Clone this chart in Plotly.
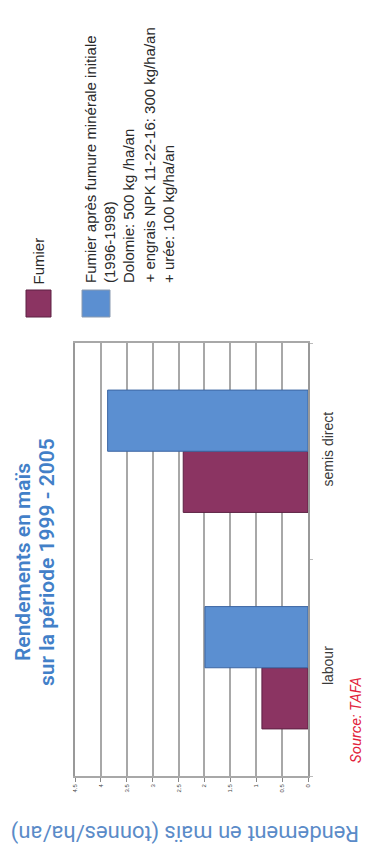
import plotly.graph_objects as go

# ---------------- data ----------------
categories = ["labour", "semis direct"]
series_names = ["Fumier", "Fumier après fumure minérale initiale"]
fumier = [0.89, 2.41]
fumier_apres_fumure = [1.99, 3.87]
tick_values = [0, 0.5, 1, 1.5, 2, 2.5, 3, 3.5, 4, 4.5]
tick_labels = ["0", "0.5", "1", "1.5", "2", "2.5", "3", "3.5", "4", "4.5"]
legend_fumier_lines = ["Fumier"]
legend_mineral_lines = [
    "Fumier après fumure minérale initiale",
    "(1996-1998)",
    "Dolomie: 500 kg /ha/an",
    "+ engrais NPK 11-22-16: 300 kg/ha/an",
    "+ urée: 100 kg/ha/an",
]
title_lines = ["Rendements en maïs", "sur la période 1999 - 2005"]
axis_title = "Rendement en maïs (tonnes/ha/an)"
source_text = "Source: TAFA"

# ---------------- style ----------------
W, H = 366, 858
L, R, T, B = 75, 308, 343, 776          # plot area in pixels
bar_colors = ["#8b3462", "#5b8fd1"]
bar_edges = ["#5c2142", "#3d66a3"]
title_color = "#4280c8"
axis_title_color = "#5a8bc8"
source_color = "#e2233c"
grid_color = "#a8a8a8"


def px(x):
    return (x - L) / (R - L)


def py(y):
    return (B - y) / (B - T)


fig = go.Figure()
fig.add_trace(go.Bar(
    y=categories, x=fumier, name=series_names[0], orientation="h",
    marker=dict(color=bar_colors[0], line=dict(color=bar_edges[0], width=1)),
))
fig.add_trace(go.Bar(
    y=categories, x=fumier_apres_fumure, name=series_names[1], orientation="h",
    marker=dict(color=bar_colors[1], line=dict(color=bar_edges[1], width=1)),
))

annotations = []
# title (rotated)
title_x = [23, 47]
for line, xc in zip(title_lines, title_x):
    annotations.append(dict(
        text=line, x=px(xc), y=py(562), xref="paper", yref="paper",
        xanchor="center", yanchor="middle", showarrow=False, textangle=-90,
        font=dict(family="Roboto, Open Sans, sans-serif", size=21, color=title_color, weight=600),
    ))

# legend texts (rotated)
annotations.append(dict(
    text=legend_fumier_lines[0], x=px(38), y=py(287), xref="paper", yref="paper",
    xanchor="center", yanchor="bottom", showarrow=False, textangle=-90,
    font=dict(family="Liberation Sans, Arial, sans-serif", size=15, color="#2a2a2a"),
))
leg_x = [91, 110, 129, 149, 169]
for line, xc in zip(legend_mineral_lines, leg_x):
    annotations.append(dict(
        text=line, x=px(xc), y=py(285), xref="paper", yref="paper",
        xanchor="center", yanchor="bottom", showarrow=False, textangle=-90,
        font=dict(family="Liberation Sans, Arial, sans-serif", size=15, color="#2a2a2a"),
    ))

# value axis title (upside down)
annotations.append(dict(
    text=axis_title, x=px(185), y=py(833), xref="paper", yref="paper",
    xanchor="center", yanchor="middle", showarrow=False, textangle=180,
    font=dict(family="Roboto, Open Sans, sans-serif", size=22, color=axis_title_color),
))

# source
annotations.append(dict(
    text=source_text, x=px(356), y=py(720), xref="paper", yref="paper",
    xanchor="center", yanchor="middle", showarrow=False, textangle=-90,
    font=dict(family="Roboto, Open Sans, sans-serif", size=15, color=source_color, style="italic"),
))

shapes = [
    dict(type="rect", xref="paper", yref="paper",
         x0=px(26), x1=px(51), y0=py(317), y1=py(290),
         fillcolor=bar_colors[0], line=dict(color=bar_edges[0], width=1)),
    dict(type="rect", xref="paper", yref="paper",
         x0=px(82), x1=px(110), y0=py(317), y1=py(290),
         fillcolor=bar_colors[1], line=dict(color="#8a9ab0", width=1)),
]

fig.update_layout(
    width=W, height=H,
    margin=dict(l=L, r=W - R, t=T, b=H - B, pad=0),
    paper_bgcolor="white", plot_bgcolor="white",
    barmode="group", bargap=0.435, bargroupgap=0,
    showlegend=False,
    annotations=annotations, shapes=shapes,
    font=dict(family="Liberation Sans, Arial, sans-serif"),
)
fig.update_xaxes(
    range=[4.5, 0], tickvals=tick_values, ticktext=tick_labels, tickangle=-90,
    tickfont=dict(size=6, color="#444444"),
    showgrid=True, gridcolor=grid_color, gridwidth=2,
    showline=True, linecolor=grid_color, linewidth=1.5, mirror=True,
    ticks="outside", ticklen=4, tickcolor="#888888", zeroline=False,
    automargin=False, fixedrange=True,
)
fig.update_yaxes(
    side="right", range=[-0.5, 1.5], tickangle=-90,
    tickfont=dict(size=14, color="#3a3a3a", family="Liberation Sans, Arial, sans-serif"),
    showgrid=False, showline=True, linecolor="#999999", linewidth=1.5, mirror=True,
    ticks="outside", tickson="boundaries", ticklen=3, tickcolor="#bbbbbb",
    ticklabelstandoff=6, automargin=False, fixedrange=True,
)

fig.write_html(
    "out.html",
    config={"displayModeBar": False},
    post_script="document.body.style.margin='0';document.documentElement.style.overflow='hidden';",
)
